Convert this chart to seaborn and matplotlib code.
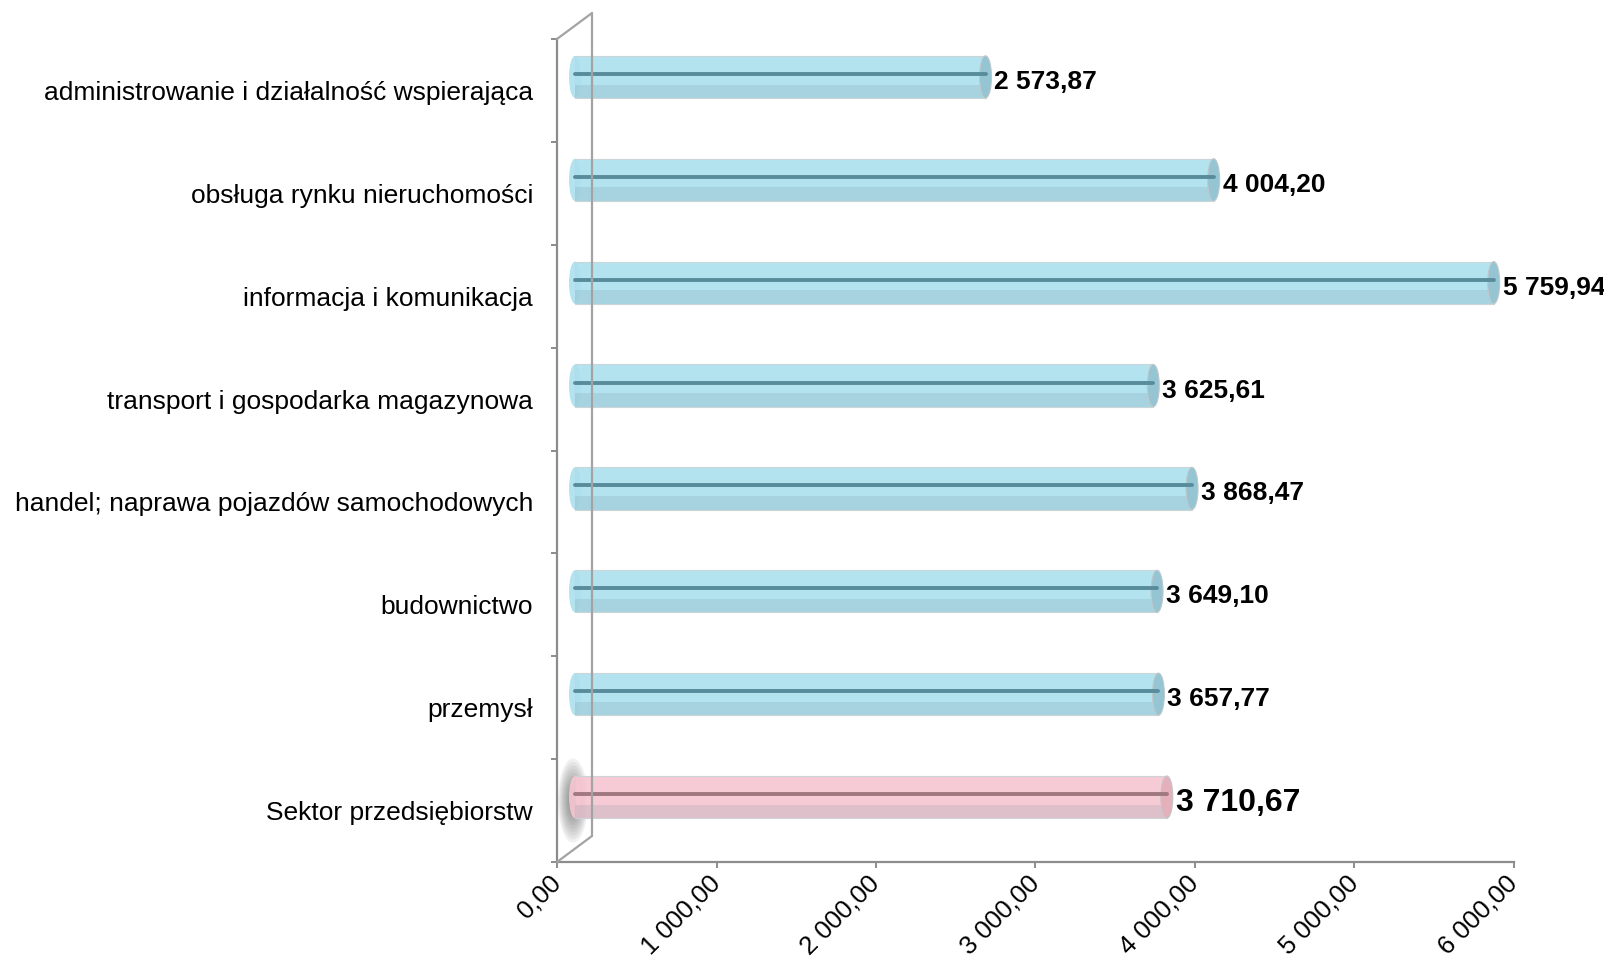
import matplotlib
matplotlib.use("Agg")
import matplotlib.pyplot as plt
import matplotlib.transforms as mtransforms
from matplotlib.patches import Ellipse, Rectangle
import numpy as np
import pandas as pd
import seaborn as sns

# data
categories = [
    "administrowanie i działalność wspierająca",
    "obsługa rynku nieruchomości",
    "informacja i komunikacja",
    "transport i gospodarka magazynowa",
    "handel; naprawa pojazdów samochodowych",
    "budownictwo",
    "przemysł",
    "Sektor przedsiębiorstw",
]
values = [2573.87, 4004.20, 5759.94, 3625.61, 3868.47, 3649.10, 3657.77, 3710.67]
x_ticks = [0, 1000, 2000, 3000, 4000, 5000, 6000]
highlight = "Sektor przedsiębiorstw"


def pl(v):
    """Polish number format: 1 234,56"""
    return f"{v:,.2f}".replace(",", " ").replace(".", ",")


sns.set_style("white")
plt.rcParams["font.family"] = ["Liberation Sans", "DejaVu Sans"]

df = pd.DataFrame({"category": categories, "value": values})

blue = "#ace0ef"
pink = "#f7c6d1"
palette = {c: (pink if c == highlight else blue) for c in categories}
line_col = {c: ("#a07880" if c == highlight else "#588c9b") for c in categories}
cap_col = {c: ("#e6b0bb" if c == highlight else "#95c4d2") for c in categories}

fig = plt.figure(figsize=(16.04, 9.68), dpi=100)
ax = fig.add_axes([557 / 1604, 1 - 862 / 968, (1514 - 557) / 1604, (862 - 39) / 968])

sns.barplot(data=df, x="value", y="category", hue="category", palette=palette,
            width=0.41, saturation=1, legend=False, ax=ax, orient="h")

ax.set_xlim(0, 6000)
ax.set_ylim(7.5, -0.5)

# 3D-like depth: bars sit halfway into the wall
px = 1 / fig.dpi
bar_shift = ax.transData + mtransforms.ScaledTranslation(18 * px, 13.5 * px, fig.dpi_scale_trans)
cap_w = 12 * 6000 / ax.bbox.width

for i, cont in enumerate(ax.containers):
    cat = categories[i]
    for bar in cont:
        y0, h = bar.get_y(), bar.get_height()
        x1 = bar.get_width()
        bar.set_transform(bar_shift)
        bar.set_edgecolor("#c9d2d5")
        bar.set_linewidth(0.8)
        bar.set_alpha(0.9)
        bar.set_zorder(3)
        # darker lower part of the cylinder
        shade = Rectangle((0, y0 + 0.68 * h), x1, 0.32 * h, facecolor="#6f8f99",
                          alpha=0.18, edgecolor="none", transform=bar_shift, zorder=3.2)
        ax.add_patch(shade)
        # rounded left end
        left = Ellipse((0, y0 + h / 2), cap_w, h, facecolor=palette[cat],
                       edgecolor="none", alpha=0.9, transform=bar_shift, zorder=2.9)
        ax.add_patch(left)
        # end cap on the right
        right = Ellipse((x1, y0 + h / 2), cap_w, h, facecolor=cap_col[cat],
                        edgecolor="#c0c8cb", lw=0.8, transform=bar_shift, zorder=3.4)
        ax.add_patch(right)
        # axis line through the cylinder
        ax.plot([0, x1], [y0 + 0.43 * h] * 2, color=line_col[cat], lw=2.8,
                transform=bar_shift, zorder=3.5, solid_capstyle="round")

# soft shadow behind the highlighted bar
idx = categories.index(highlight)
shadow_tr = ax.transData + mtransforms.ScaledTranslation(16 * px, 10 * px, fig.dpi_scale_trans)
for k in np.linspace(1, 0.25, 10):
    ax.add_patch(Ellipse((0, idx), 30 * k * 6000 / ax.bbox.width, 0.82 * k,
                         facecolor="#404040", edgecolor="none", alpha=0.07,
                         transform=shadow_tr, zorder=1))

# data labels
for i, (cat, v) in enumerate(zip(categories, values)):
    big = cat == highlight
    ax.annotate(pl(v), xy=(v, i), xytext=(19.4, 5.5 if big else 6.1),
                textcoords="offset points", ha="left", va="center",
                fontsize=23 if big else 19, fontweight="bold", color="black",
                annotation_clip=False, zorder=5)

# axes styling
grey = "#8c8c8c"
for s in ["top", "right"]:
    ax.spines[s].set_visible(False)
for s in ["left", "bottom"]:
    ax.spines[s].set_color(grey)
    ax.spines[s].set_linewidth(1.6)

ax.set_xlabel("")
ax.set_ylabel("")
ax.set_xticks(x_ticks)
ax.set_xticklabels([pl(t) for t in x_ticks], rotation=45, ha="right",
                   va="center", rotation_mode="anchor", fontsize=18.5)
ax.tick_params(axis="x", bottom=True, length=4.5, width=1.4, color=grey, pad=8,
               labelcolor="black")

ax.set_yticks(range(len(categories)))
ax.set_yticklabels(categories, fontsize=19)
ax.set_yticks(np.arange(-0.5, len(categories), 1), minor=True)
ax.tick_params(axis="y", which="major", left=True, length=0, pad=17.3, labelcolor="black")
ax.tick_params(axis="y", which="minor", left=True, length=4.5, width=1.4, color=grey)

# back wall of the 3D frame
wall = "#a3a3a3"
wall_shift = ax.transAxes + mtransforms.ScaledTranslation(35 * px, 26 * px, fig.dpi_scale_trans)
ax.plot([0, 0], [0, 1], color=wall, lw=1.6, transform=wall_shift, clip_on=False, zorder=4)
for yy in [0, 1]:
    ax.annotate("", xy=(0, yy), xycoords="axes fraction", xytext=(35 * 0.72, 26 * 0.72),
                textcoords="offset points",
                arrowprops=dict(arrowstyle="-", color=wall, lw=1.6, shrinkA=0, shrinkB=0))

fig.savefig("out.png", dpi=100)
